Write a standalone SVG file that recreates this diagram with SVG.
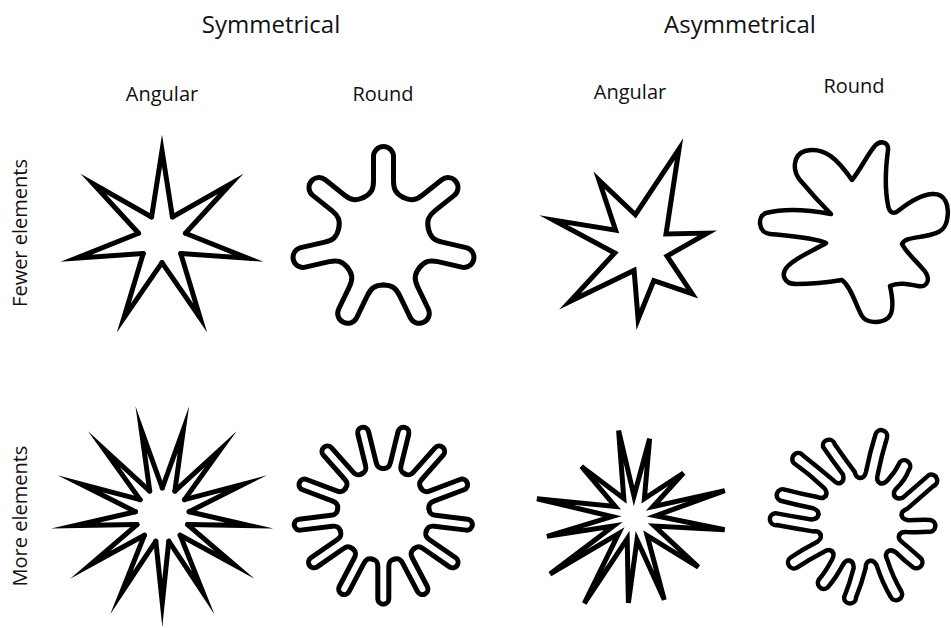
<svg xmlns="http://www.w3.org/2000/svg" xmlns:xlink="http://www.w3.org/1999/xlink" width="951" height="628" viewBox="0 0 951 628">
<style>
.t{font-family:"Open Sans","Liberation Sans",sans-serif;fill:#111;text-anchor:middle}
.h{font-size:24px}
.s{font-size:20px}
.ln{fill:none;stroke:#000;stroke-width:5;stroke-linejoin:miter;stroke-miterlimit:20;stroke-linecap:round}
.lb{fill:none;stroke:#000;stroke-width:5;stroke-linejoin:miter;stroke-miterlimit:5;stroke-linecap:round}
.lr{fill:none;stroke:#000;stroke-width:4.5;stroke-linejoin:round;stroke-linecap:round}
</style>
<defs>
<path id="arm7" d="M-10.41,-21.62 L0,-88 L10.41,-21.62"/>
<path id="arm13" d="M-6.46,-26.22 L0,-88 L6.46,-26.22"/>
<path id="lobe7" d="M-19.96,-41.44 C-12,-45.3 -10,-50 -10,-58 L-10,-82.5 A10 10 0 0 1 10,-82.5 L10,-58 C10,-50 12,-45.3 19.96,-41.44"/>
<path id="finger13" d="M-11.01,-44.66 C-7,-45.6 -5.5,-47.5 -5.5,-52 L-5.5,-84.2 A5.5 5.5 0 0 1 5.5,-84.2 L5.5,-52 C5.5,-47.5 7,-45.6 11.01,-44.66"/>
</defs>
<rect width="951" height="628" fill="#fff"/>

<g id="label-symmetrical"><text class="t h" x="271" y="33">Symmetrical</text></g>
<g id="label-asymmetrical"><text class="t h" x="740" y="33">Asymmetrical</text></g>
<g id="label-angular-1"><text class="t s" x="162" y="101">Angular</text></g>
<g id="label-round-1"><text class="t s" x="383" y="101">Round</text></g>
<g id="label-angular-2"><text class="t s" x="630" y="99">Angular</text></g>
<g id="label-round-2"><text class="t s" x="854" y="93">Round</text></g>
<g id="label-fewer"><text class="t s" transform="translate(27,233) rotate(-90)">Fewer elements</text></g>
<g id="label-more"><text class="t s" transform="translate(27,516) rotate(-90)">More elements</text></g>

<g id="sym-angular-few" class="ln" transform="translate(162,238.6)">
<use xlink:href="#arm7"/>
<use xlink:href="#arm7" transform="rotate(51.43)"/>
<use xlink:href="#arm7" transform="rotate(102.86)"/>
<use xlink:href="#arm7" transform="rotate(154.29)"/>
<use xlink:href="#arm7" transform="rotate(205.71)"/>
<use xlink:href="#arm7" transform="rotate(257.14)"/>
<use xlink:href="#arm7" transform="rotate(308.57)"/>
</g>

<g id="sym-round-few" class="ln" transform="translate(383.5,239)">
<use xlink:href="#lobe7"/>
<use xlink:href="#lobe7" transform="rotate(51.43)"/>
<use xlink:href="#lobe7" transform="rotate(102.86)"/>
<use xlink:href="#lobe7" transform="rotate(154.29)"/>
<use xlink:href="#lobe7" transform="rotate(205.71)"/>
<use xlink:href="#lobe7" transform="rotate(257.14)"/>
<use xlink:href="#lobe7" transform="rotate(308.57)"/>
</g>

<g id="asym-angular-few">
<polygon class="ln" points="679,149 666,234 707.2,233.1 667,256 692.1,293.7 653.8,280.6 638.1,319.3 634.1,270.4 569.9,301.5 614.7,253 553.5,220.1 615.6,230.2 599,180.2 635.4,214.7"/>
</g>

<g id="asym-round-few">
<path class="lr" d="M852,180 C860,170 868,154 874,147 C879,140 889,141 888,150 C886,165 884,185 888,205 C889,212 893,215 898,211 C908,203 920,195 932,194 C945,193 950,205 947,220 C945,232 935,234 925,236 C915,238 905,238 902,244 C906,252 915,260 922,268 C932,278 928,288 918,286 C908,284 898,282 890,286 C892,295 895,312 888,318 C880,324 866,323 862,316 C856,306 852,288 842,280 C830,282 810,284 796,284 C784,284 780,274 788,266 C798,256 815,250 826,243 C815,238 790,236 770,234 C758,233 757,216 766,213 C785,208 810,210 831,214 C822,205 810,192 800,180 C792,170 793,155 805,151 C825,146 838,160 852,180 Z"/>
</g>

<g id="sym-angular-more" class="ln" transform="translate(162.3,515)">
<use xlink:href="#arm13" transform="rotate(13.846)"/>
<use xlink:href="#arm13" transform="rotate(41.538)"/>
<use xlink:href="#arm13" transform="rotate(69.231)"/>
<use xlink:href="#arm13" transform="rotate(96.923)"/>
<use xlink:href="#arm13" transform="rotate(124.615)"/>
<use xlink:href="#arm13" transform="rotate(152.308)"/>
<use xlink:href="#arm13" transform="rotate(180)"/>
<use xlink:href="#arm13" transform="rotate(207.692)"/>
<use xlink:href="#arm13" transform="rotate(235.385)"/>
<use xlink:href="#arm13" transform="rotate(263.077)"/>
<use xlink:href="#arm13" transform="rotate(290.769)"/>
<use xlink:href="#arm13" transform="rotate(318.462)"/>
<use xlink:href="#arm13" transform="rotate(346.154)"/>
</g>

<g id="sym-round-more" class="ln" transform="translate(383.3,514.5)">
<use xlink:href="#finger13" transform="rotate(13.846)"/>
<use xlink:href="#finger13" transform="rotate(41.538)"/>
<use xlink:href="#finger13" transform="rotate(69.231)"/>
<use xlink:href="#finger13" transform="rotate(96.923)"/>
<use xlink:href="#finger13" transform="rotate(124.615)"/>
<use xlink:href="#finger13" transform="rotate(152.308)"/>
<use xlink:href="#finger13" transform="rotate(180)"/>
<use xlink:href="#finger13" transform="rotate(207.692)"/>
<use xlink:href="#finger13" transform="rotate(235.385)"/>
<use xlink:href="#finger13" transform="rotate(263.077)"/>
<use xlink:href="#finger13" transform="rotate(290.769)"/>
<use xlink:href="#finger13" transform="rotate(318.462)"/>
<use xlink:href="#finger13" transform="rotate(346.154)"/>
</g>

<g id="asym-angular-more">
<polygon class="lb" points="618.6,430.5 634,496 649.6,438.7 644.4,498.6 683.5,473 652.9,506.7 724.8,490.6 655.9,515.7 724.7,529.8 654.5,526 698.4,567.1 647.2,535.6 664.3,599.8 637,539.8 628.4,603 627.2,538.9 584.3,603.3 618.6,533.7 550,574 613.5,526 547,536.3 612,516.6 537,498.7 615.2,506.5 581.4,466.4 623.8,498.5"/>
</g>

<g id="asym-round-more" class="lr" transform="translate(860,520)">
<path transform="rotate(14.2)" d="M-10.05,-40.78 C-7,-41.5 -6,-44 -6,-48 Q-7,-68 -6,-86.5 A6 6 0 0 1 6,-86.5 Q5,-68 6,-48 C6,-44 7,-41.5 10.05,-40.78"/>
<path transform="rotate(41.9)" d="M-10.05,-40.78 C-7,-41.5 -6,-44 -6,-48 Q-6,-60 -8.9,-69.5 A6 6 0 0 1 3.1,-69.5 Q7,-60 6,-48 C6,-44 7,-41.5 10.05,-40.78"/>
<path transform="rotate(69.6)" d="M-10.05,-40.78 C-7,-41.5 -6,-44 -6,-48 Q-12,-64 -18.2,-80.5 A6 6 0 0 1 -6.2,-80.5 Q0,-64 6,-48 C6,-44 7,-41.5 10.05,-40.78"/>
<path transform="rotate(97.3)" d="M-10.05,-40.78 C-7,-41.5 -6,-44 -6,-48 Q-8,-60 -9,-69.5 A6 6 0 0 1 3,-69.5 Q5,-60 6,-48 C6,-44 7,-41.5 10.05,-40.78"/>
<path transform="rotate(125)" d="M-10.05,-40.78 C-7,-41.5 -6,-44 -6,-48 Q-5,-60 -3.7,-70.5 A6 6 0 0 1 8.3,-70.5 Q8,-60 6,-48 C6,-44 7,-41.5 10.05,-40.78"/>
<path transform="rotate(152.7)" d="M-10.05,-40.78 C-7,-41.5 -6,-44 -6,-48 Q-3,-66 -4,-82.5 A6 6 0 0 1 8,-82.5 Q9,-66 6,-48 C6,-44 7,-41.5 10.05,-40.78"/>
<path transform="rotate(180.4)" d="M-10.05,-40.78 C-7,-41.5 -6,-44 -6,-48 Q-2,-64 3.4,-77.5 A6 6 0 0 1 15.4,-77.5 Q10,-64 6,-48 C6,-44 7,-41.5 10.05,-40.78"/>
<path transform="rotate(208.1)" d="M-10.05,-40.78 C-7,-41.5 -6,-44 -6,-48 Q-6,-62 -3.7,-72.5 A6 6 0 0 1 8.3,-72.5 Q6,-62 6,-48 C6,-44 7,-41.5 10.05,-40.78"/>
<path transform="rotate(235.8)" d="M-10.05,-40.78 C-7,-41.5 -6,-44 -6,-48 Q-4,-64 -4,-78.5 A6 6 0 0 1 8,-78.5 Q8,-64 6,-48 C6,-44 7,-41.5 10.05,-40.78"/>
<path transform="rotate(263.5)" d="M-10.05,-40.78 C-7,-41.5 -6,-44 -6,-48 Q-1,-66 4.4,-83.5 A6 6 0 0 1 16.4,-83.5 Q11,-66 6,-48 C6,-44 7,-41.5 10.05,-40.78"/>
<path transform="rotate(291.2)" d="M-10.05,-40.78 C-7,-41.5 -6,-44 -6,-48 Q-9,-65 -10.8,-81 A6 6 0 0 1 1.2,-81 Q3,-65 6,-48 C6,-44 7,-41.5 10.05,-40.78"/>
<path transform="rotate(318.9)" d="M-10.05,-40.78 C-7,-41.5 -6,-44 -6,-48 Q-8,-68 -12.5,-86.5 A6 6 0 0 1 -0.5,-86.5 Q3,-68 6,-48 C6,-44 7,-41.5 10.05,-40.78"/>
<path transform="rotate(346.6)" d="M-10.05,-40.78 C-7,-41.5 -6,-44 -6,-48 Q-13,-64 -19,-79.5 A6 6 0 0 1 -7,-79.5 Q-1,-64 6,-48 C6,-44 7,-41.5 10.05,-40.78"/>
</g>
</svg>
